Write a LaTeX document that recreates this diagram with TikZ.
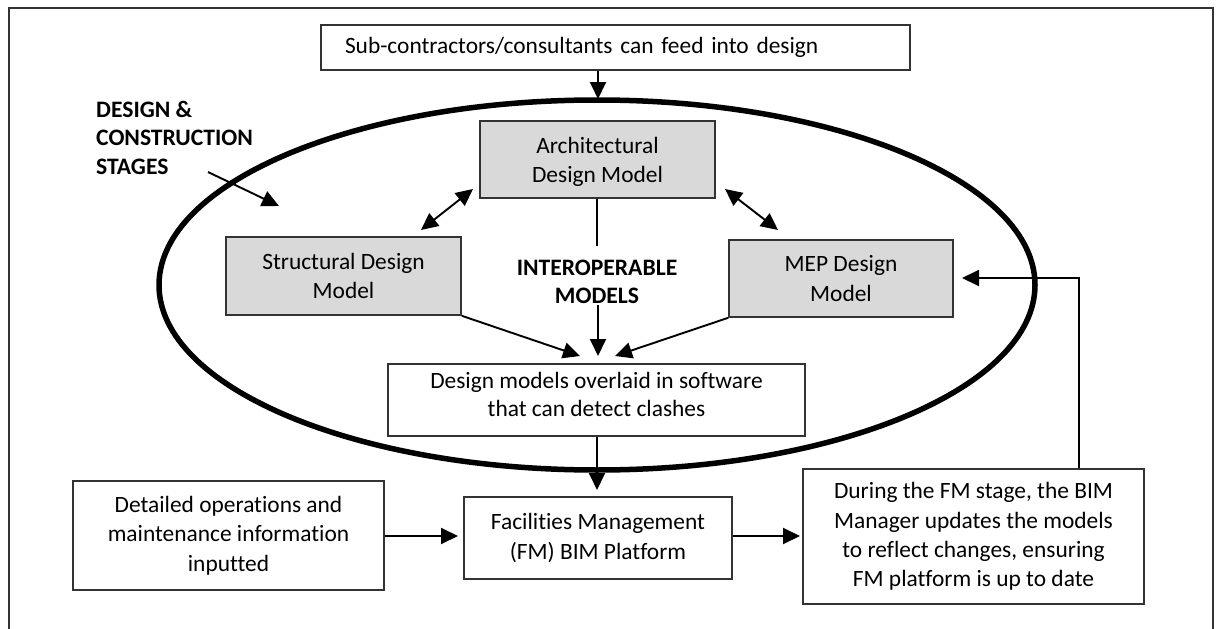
\documentclass[tikz,border=0pt]{standalone}
\usepackage{fontspec}
\setmainfont[Ligatures=NoCommon]{Carlito}
\usetikzlibrary{arrows.meta}
\begin{document}
\begin{tikzpicture}[x=1pt,y=-1pt,
  box/.style={draw=black!80, line width=1.6pt, rectangle, inner sep=0pt, align=center,
    font=\fontsize{23.4}{29.3}\selectfont},
  gbox/.style={box, fill=black!15},
  arr/.style={line width=1.9pt, -{Triangle[length=17pt,width=16pt]}},
  darr/.style={line width=1.9pt, {Triangle[length=17pt,width=16pt]}-{Triangle[length=17pt,width=16pt]}},
  plain/.style={line width=1.9pt},
  lbl/.style={font=\fontsize{23.6}{28.5}\selectfont\bfseries, inner sep=0pt}]
\useasboundingbox (0,0) rectangle (1219,629);
\fill[white] (0,0) rectangle (1219,629);
% outer frame
\draw[line width=1.6pt, black!80] (9,640) -- (9,8) -- (1213,8) -- (1213,640);
% ellipse
\draw[line width=5.5pt] (597,285) ellipse [x radius=438, y radius=185];
% boxes
\node[box, minimum width=589, minimum height=45, text width=541, align=left] (top) at (615.5,47.5) {Sub-contractors/consultants can feed into design};
\node[gbox, minimum width=235, minimum height=77] (arch) at (597.5,159.5) {\rule{0pt}{21pt}Architectural\\Design Model};
\node[gbox, minimum width=235, minimum height=78] (str) at (343.5,276) {Structural Design\\Model};
\node[gbox, minimum width=224, minimum height=77] (mep) at (841,278.5) {MEP Design\\Model};
\node[box, minimum width=417, minimum height=72, font=\fontsize{23.4}{28}\selectfont] (ovl) at (596.5,400) {Design models overlaid in software\\that can detect clashes\rule[-12pt]{0pt}{12pt}};
\node[box, minimum width=268, minimum height=82] (fm) at (598,538) {Facilities Management\\(FM) BIM Platform};
\node[box, minimum width=311, minimum height=109] (det) at (228.5,535.5) {Detailed operations and\\maintenance information\\inputted};
\node[box, minimum width=341, minimum height=135] (dur) at (973.5,536.5) {During the FM stage, the BIM\\Manager updates the models\\to reflect changes, ensuring\\FM platform is up to date};
% labels
\node[lbl, anchor=north west, align=left] (stages) at (96,101) {DESIGN \&\\CONSTRUCTION\\STAGES};
\node[lbl, align=center] (inter) at (597,282) {INTEROPERABLE\\MODELS};
% connectors
\coordinate (topin) at (598,99);
\draw[arr] (top.south -| topin) -- (topin);
\coordinate (sA) at (208,172);
\coordinate (sB) at (279,206);
\draw[arr] (sA) -- (sB);
\coordinate (dl1) at (421,230);
\coordinate (dl2) at (473,189);
\draw[darr] (dl1) -- (dl2);
\coordinate (dr1) at (725,189);
\coordinate (dr2) at (778,230);
\draw[darr] (dr1) -- (dr2);
\coordinate (archend) at (597,246);
\draw[plain] (arch.south -| archend) -- (archend);
\coordinate (midtip) at (598,356);
\draw[arr] (598,305) -- (midtip);
\coordinate (ltip) at (580,356);
\coordinate (rtip) at (615,356);
\draw[arr] (str.south east) -- (ltip);
\draw[arr] (mep.south west) -- (rtip);
\coordinate (fmtip) at (597,490);
\draw[arr] (ovl.south -| fmtip) -- (fmtip);
\coordinate (fmin) at (458,536);
\draw[arr] (det.east |- fmin) -- (fmin);
\coordinate (durin) at (800,536);
\draw[arr] (fm.east |- durin) -- (durin);
\coordinate (fbup) at (1079,278);
\coordinate (feedtip) at (962,278);
\draw[arr] (dur.north -| fbup) -- (fbup) -- (feedtip);
\end{tikzpicture}
\end{document}
